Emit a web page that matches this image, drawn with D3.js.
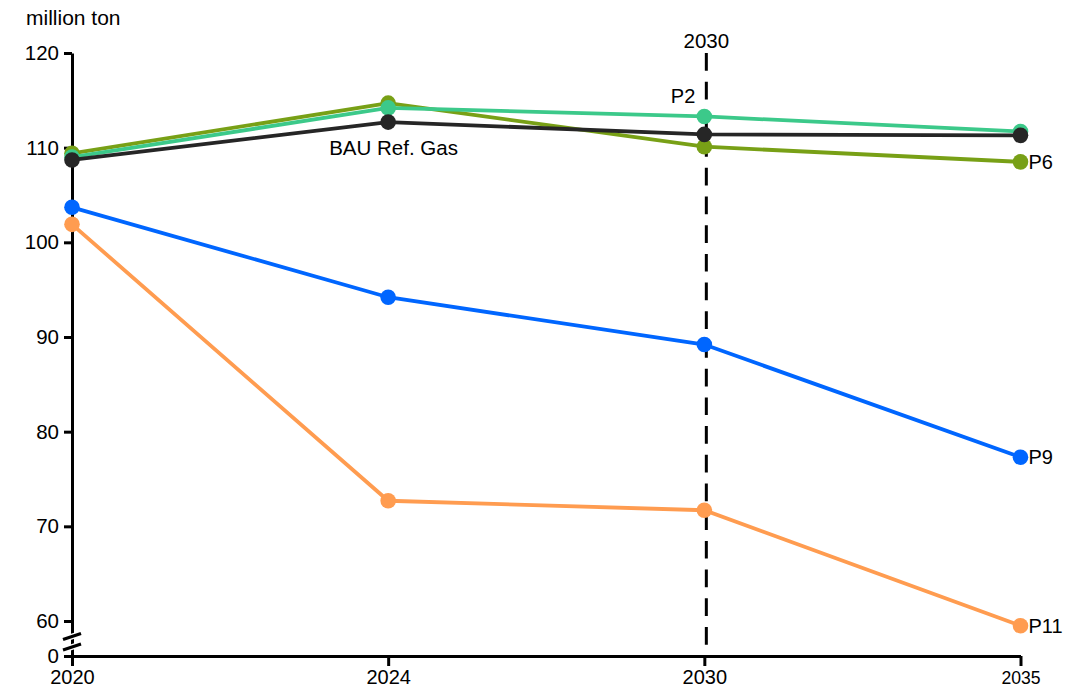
<!DOCTYPE html>
<html><head><meta charset="utf-8">
<script src="https://cdn.jsdelivr.net/npm/d3@7"></script>
<style>body{margin:0;background:#fff}svg{display:block;font-family:"Liberation Sans",Arial,sans-serif}</style>
</head><body><svg id="c" width="1081" height="688"></svg>
<script>
const years = ["2020","2024","2030","2035"];
const yTicks = [0,60,70,80,90,100,110,120];
const P6  = [109.4,114.7,110.1,108.5];
const P2  = [109.0,114.2,113.3,111.7];
const BAU = [108.7,112.7,111.4,111.3];
const P9  = [103.7,94.2,89.2,77.3];
const P11 = [101.9,72.7,71.7,59.5];
const seriesNames = ["P11","P9","P6","P2","BAU Ref. Gas"];
const seriesValues = [P11,P9,P6,P2,BAU];
const seriesColors = ["#ff9c50","#0066ff","#78a016","#3cc98a","#262626"];

const svg = d3.select("#c");
const x = d3.scalePoint().domain(years).range([72,1020.5]);
// data scale (linear, 60..120) and axis scale (with compressed break below 60)
const y = d3.scaleLinear().domain([60,120]).range([621,53]);
const yAxisScale = d3.scaleLinear().domain([0,60,120]).range([656,621,53]);

// y axis
const ya = svg.append("g").attr("transform","translate(72,0)")
  .call(d3.axisLeft(yAxisScale).tickValues(yTicks).tickSize(8).tickSizeOuter(0).tickFormat(d3.format("d")));
ya.select(".domain").attr("stroke","#000").attr("stroke-width",3);
ya.selectAll(".tick line").attr("stroke","#000").attr("stroke-width",3);
ya.selectAll(".tick text").attr("font-size",20.5).attr("fill","#000").attr("x",-13);

// x axis
const xa = svg.append("g").attr("transform","translate(0,656)")
  .call(d3.axisBottom(x).tickSize(10).tickSizeOuter(0));
xa.select(".domain").attr("stroke","#000").attr("stroke-width",3);
xa.selectAll(".tick line").attr("stroke","#000").attr("stroke-width",3);
xa.selectAll(".tick text").attr("font-size",d=>d==="2035"?17.6:20).attr("fill","#000")
  .attr("dy",null).attr("y",d=>d==="2035"?27.5:28);

// axis break marks
const bk = svg.append("g");
[647, 636.5].forEach(v=>{
  bk.append("line").attr("x1",63).attr("x2",81).attr("y1",v+3).attr("y2",v-3)
    .attr("stroke","#fff").attr("stroke-width",6);
});
[647, 636.5].forEach(v=>{
  bk.append("line").attr("x1",63).attr("x2",81).attr("y1",v+3).attr("y2",v-3)
    .attr("stroke","#000").attr("stroke-width",3.2);
});

// unit label
svg.append("text").attr("x",26).attr("y",25).attr("font-size",21).attr("fill","#000").text("million ton");

// 2030 dashed line
svg.append("line").attr("x1",x("2030")+2).attr("x2",x("2030")+2).attr("y1",53).attr("y2",656)
  .attr("stroke","#000").attr("stroke-width",3).attr("stroke-dasharray","17.7,11");
svg.append("text").attr("x",x("2030")+2).attr("y",48).attr("text-anchor","middle")
  .attr("font-size",20.5).attr("fill","#000").text("2030");

// series
const line = d3.line().x((d,i)=>x(years[i])).y(d=>y(d));
seriesValues.forEach((vals,k)=>{
  const g = svg.append("g");
  g.append("path").attr("d",line(vals)).attr("fill","none")
    .attr("stroke",seriesColors[k]).attr("stroke-width",3.8);
  g.selectAll("circle").data(vals).join("circle")
    .attr("cx",(d,i)=>x(years[i])).attr("cy",d=>y(d)).attr("r",7.8)
    .attr("fill",seriesColors[k]);
});

// labels
const lab = (t,xx,yy,anchor)=>svg.append("text").attr("x",xx).attr("y",yy)
  .attr("text-anchor",anchor||"start").attr("font-size",20).attr("fill","#000").text(t);
lab("P2", x("2030")-9, y(P2[2])-13, "end");
lab("BAU Ref. Gas", x("2024")-59, y(BAU[1])+32.5).attr("font-size",20.5);
lab("P6", x("2035")+8, y(P6[3])+7);
lab("P9", x("2035")+8, y(P9[3])+7);
lab("P11", x("2035")+8, y(P11[3])+7);
</script></body></html>
